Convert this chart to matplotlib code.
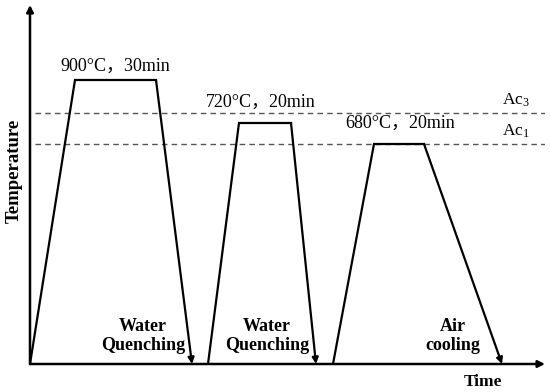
import matplotlib
matplotlib.use("Agg")
import matplotlib.pyplot as plt

plt.rcParams["mathtext.fontset"] = "custom"
plt.rcParams["mathtext.rm"] = "Liberation Serif"
plt.rcParams["mathtext.it"] = "Liberation Serif:italic"
plt.rcParams["mathtext.bf"] = "Liberation Serif:bold"
plt.rcParams["mathtext.default"] = "rm"

# Schematic heat-treatment cycles (time, temperature in schematic units)
cycle_times = [
    [0, 45, 126, 162],
    [178, 209, 261, 286],
    [303, 344, 394, 472],
]
cycle_temps = [
    [0, 284, 284, 0],
    [0, 241, 241, 0],
    [0, 220, 220, 0],
]
cycle_labels = ["900°C，30min", "720°C，20min", "680°C，20min"]
cooling_labels = ["Water\nQuenching", "Water\nQuenching", "Air\ncooling"]
ac_levels = [251, 220]
ac_labels = ["Ac$_3$", "Ac$_1$"]

serif = ["Liberation Serif", "Noto Sans CJK SC", "DejaVu Serif"]

fig = plt.figure(figsize=(5.5, 3.92), dpi=100)
W, H = 550, 392
x0, y0 = 30, 364
xmax, ymax = 515, 359
ax = fig.add_axes([x0 / W, (H - y0) / H, xmax / W, ymax / H])
ax.set_xlim(0, xmax)
ax.set_ylim(0, ymax)
ax.axis("off")

# axes with arrows
ax.annotate("", xy=(xmax, 0), xytext=(0, 0),
            arrowprops=dict(arrowstyle="-|>", color="black", lw=1.8,
                            mutation_scale=10, shrinkA=0, shrinkB=0))
ax.annotate("", xy=(0, ymax), xytext=(0, 0),
            arrowprops=dict(arrowstyle="-|>", color="black", lw=1.8,
                            mutation_scale=10, shrinkA=0, shrinkB=0))

# dashed critical lines
for lvl in ac_levels:
    ax.plot([5, xmax], [lvl, lvl], ls=(0, (4, 3)), color="#555555", lw=1.0)

for lvl, lab in zip(ac_levels, ac_labels):
    ax.text(486, lvl + 4, lab, fontsize=12.5, family=serif, ha="center", va="bottom")

# cycles
for t, T in zip(cycle_times, cycle_temps):
    ax.plot(t[:3], T[:3], color="black", lw=1.6, solid_joinstyle="miter")
    ax.annotate("", xy=(t[3], T[3]), xytext=(t[2], T[2]),
                arrowprops=dict(arrowstyle="-|>", color="black", lw=1.6,
                                mutation_scale=9, shrinkA=0, shrinkB=0))

label_pos = [(85, 289), (231, 253), (370, 232)]
for (x, y), lab in zip(label_pos, cycle_labels):
    ax.text(x, y, lab, fontsize=13, family=serif, ha="center", va="bottom")

cool_pos = [(113, 28), (237, 28), (423, 28)]
for (x, y), lab in zip(cool_pos, cooling_labels):
    ax.text(x, y, lab, fontsize=13, family=serif, fontweight="bold",
            ha="center", va="center", linespacing=1.2)

ax.text(453, -18, "Time", fontsize=12.5, family=serif, fontweight="bold",
        ha="center", va="center")
ax.text(-16, 193, "Temperature", fontsize=13.5, family=serif, fontweight="bold",
        ha="center", va="center", rotation=90)

fig.savefig("out.png", dpi=100)
